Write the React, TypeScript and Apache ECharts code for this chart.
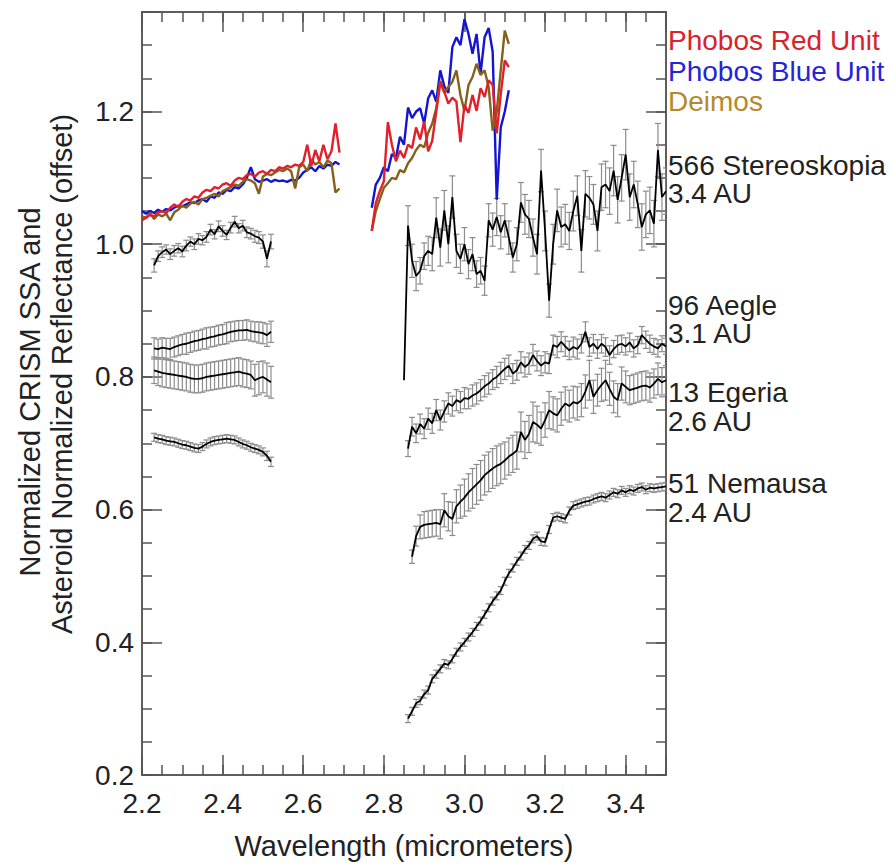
import React, { useEffect, useRef } from "react";
import * as echarts from "echarts";

// ---------- wavelength grids (micrometers) ----------
const moonWlA = [2.20, 2.21, 2.22, 2.23, 2.24, 2.25, 2.26, 2.27, 2.28, 2.29, 2.30, 2.31, 2.32, 2.33, 2.34, 2.35, 2.36, 2.37, 2.38, 2.39, 2.40, 2.41, 2.42, 2.43, 2.44, 2.45, 2.46, 2.47, 2.48, 2.49, 2.50, 2.51, 2.52, 2.53, 2.54, 2.55, 2.56, 2.57, 2.58, 2.59, 2.60, 2.61, 2.62, 2.63, 2.64, 2.65, 2.66, 2.67, 2.68, 2.69];
const moonWlB = [2.77, 2.78, 2.79, 2.80, 2.81, 2.82, 2.83, 2.84, 2.85, 2.86, 2.87, 2.88, 2.89, 2.90, 2.91, 2.92, 2.93, 2.94, 2.95, 2.96, 2.97, 2.98, 2.99, 3.00, 3.01, 3.02, 3.03, 3.04, 3.05, 3.06, 3.07, 3.08, 3.09, 3.10, 3.11];
const astWlA = [2.23, 2.24, 2.25, 2.26, 2.27, 2.28, 2.29, 2.30, 2.31, 2.32, 2.33, 2.34, 2.35, 2.36, 2.37, 2.38, 2.39, 2.40, 2.41, 2.42, 2.43, 2.44, 2.45, 2.46, 2.47, 2.48, 2.49, 2.50, 2.51, 2.52];
const astWlB = [2.85, 2.86, 2.87, 2.88, 2.89, 2.90, 2.91, 2.92, 2.93, 2.94, 2.95, 2.96, 2.97, 2.98, 2.99, 3.00, 3.01, 3.02, 3.03, 3.04, 3.05, 3.06, 3.07, 3.08, 3.09, 3.10, 3.11, 3.12, 3.13, 3.14, 3.15, 3.16, 3.17, 3.18, 3.19, 3.20, 3.21, 3.22, 3.23, 3.24, 3.25, 3.26, 3.27, 3.28, 3.29, 3.30, 3.31, 3.32, 3.33, 3.34, 3.35, 3.36, 3.37, 3.38, 3.39, 3.40, 3.41, 3.42, 3.43, 3.44, 3.45, 3.46, 3.47, 3.48, 3.49, 3.50];

// ---------- Phobos / Deimos CRISM SSA ----------
const phobosRedA = [1.036, 1.040, 1.044, 1.042, 1.048, 1.050, 1.047, 1.055, 1.060, 1.056, 1.064, 1.068, 1.066, 1.072, 1.070, 1.078, 1.082, 1.080, 1.086, 1.084, 1.090, 1.092, 1.088, 1.096, 1.100, 1.098, 1.104, 1.106, 1.102, 1.108, 1.110, 1.106, 1.112, 1.110, 1.116, 1.114, 1.118, 1.116, 1.120, 1.118, 1.124, 1.150, 1.118, 1.142, 1.125, 1.150, 1.128, 1.140, 1.182, 1.138];
const phobosBlueA = [1.050, 1.046, 1.050, 1.047, 1.052, 1.049, 1.053, 1.051, 1.055, 1.058, 1.057, 1.060, 1.063, 1.062, 1.066, 1.068, 1.064, 1.072, 1.070, 1.078, 1.076, 1.082, 1.080, 1.086, 1.084, 1.090, 1.100, 1.116, 1.098, 1.094, 1.096, 1.098, 1.094, 1.097, 1.095, 1.096, 1.094, 1.097, 1.096, 1.100, 1.108, 1.112, 1.116, 1.110, 1.118, 1.114, 1.120, 1.118, 1.124, 1.120];
const deimosA = [1.042, 1.040, 1.047, 1.038, 1.045, 1.042, 1.046, 1.036, 1.048, 1.052, 1.058, 1.055, 1.061, 1.064, 1.060, 1.068, 1.070, 1.073, 1.076, 1.072, 1.080, 1.083, 1.086, 1.090, 1.088, 1.094, 1.098, 1.096, 1.092, 1.076, 1.102, 1.106, 1.104, 1.108, 1.112, 1.110, 1.114, 1.110, 1.084, 1.116, 1.120, 1.110, 1.128, 1.120, 1.124, 1.116, 1.126, 1.122, 1.078, 1.084];
const phobosRedB = [1.020, 1.062, 1.080, 1.095, 1.184, 1.150, 1.125, 1.141, 1.130, 1.150, 1.145, 1.176, 1.158, 1.185, 1.140, 1.156, 1.200, 1.244, 1.230, 1.212, 1.221, 1.215, 1.154, 1.210, 1.198, 1.225, 1.201, 1.235, 1.222, 1.247, 1.240, 1.167, 1.226, 1.277, 1.267];
const phobosBlueB = [1.055, 1.090, 1.100, 1.116, 1.110, 1.136, 1.130, 1.162, 1.150, 1.206, 1.190, 1.200, 1.205, 1.182, 1.220, 1.232, 1.215, 1.262, 1.238, 1.228, 1.297, 1.312, 1.300, 1.339, 1.317, 1.287, 1.317, 1.257, 1.312, 1.326, 1.290, 1.067, 1.176, 1.200, 1.232];
const deimosB = [1.020, 1.050, 1.068, 1.085, 1.092, 1.100, 1.098, 1.112, 1.108, 1.122, 1.130, 1.142, 1.150, 1.146, 1.168, 1.182, 1.205, 1.246, 1.228, 1.237, 1.245, 1.262, 1.225, 1.201, 1.240, 1.252, 1.272, 1.255, 1.262, 1.237, 1.171, 1.200, 1.262, 1.322, 1.302];

// ---------- asteroid normalized reflectance (offset) ----------
const stereoA = [0.968, 0.982, 0.988, 0.992, 0.985, 0.990, 0.994, 0.989, 0.998, 1.004, 1.000, 1.008, 1.006, 1.011, 1.022, 1.015, 1.027, 1.020, 1.014, 1.025, 1.034, 1.024, 1.028, 1.018, 1.016, 1.012, 1.010, 1.004, 0.978, 1.004];
const stereoErrA = [0.010, 0.008, 0.008, 0.007, 0.008, 0.008, 0.007, 0.008, 0.008, 0.007, 0.008, 0.008, 0.007, 0.008, 0.008, 0.007, 0.008, 0.008, 0.007, 0.008, 0.008, 0.007, 0.008, 0.008, 0.008, 0.009, 0.009, 0.010, 0.012, 0.011];
const aegleA = [0.843, 0.842, 0.844, 0.843, 0.842, 0.845, 0.847, 0.849, 0.850, 0.852, 0.854, 0.855, 0.857, 0.858, 0.860, 0.861, 0.863, 0.864, 0.866, 0.868, 0.869, 0.870, 0.870, 0.871, 0.869, 0.868, 0.867, 0.866, 0.863, 0.868];
const aegleErrA = [0.016, 0.015, 0.015, 0.015, 0.016, 0.015, 0.015, 0.015, 0.016, 0.015, 0.015, 0.015, 0.015, 0.016, 0.015, 0.015, 0.015, 0.015, 0.016, 0.015, 0.015, 0.015, 0.015, 0.015, 0.015, 0.015, 0.016, 0.016, 0.017, 0.016];
const egeriaA = [0.810, 0.808, 0.806, 0.805, 0.804, 0.803, 0.802, 0.801, 0.800, 0.798, 0.797, 0.797, 0.798, 0.800, 0.801, 0.802, 0.803, 0.804, 0.805, 0.806, 0.807, 0.808, 0.806, 0.805, 0.803, 0.795, 0.798, 0.800, 0.796, 0.792];
const egeriaErrA = [0.020, 0.021, 0.021, 0.021, 0.021, 0.021, 0.021, 0.021, 0.021, 0.021, 0.021, 0.021, 0.021, 0.021, 0.021, 0.021, 0.021, 0.021, 0.021, 0.021, 0.021, 0.021, 0.021, 0.021, 0.021, 0.024, 0.025, 0.024, 0.025, 0.024];
const nemausaA = [0.709, 0.707, 0.706, 0.704, 0.703, 0.702, 0.700, 0.698, 0.697, 0.695, 0.693, 0.692, 0.695, 0.699, 0.702, 0.704, 0.705, 0.706, 0.707, 0.706, 0.705, 0.702, 0.699, 0.697, 0.694, 0.692, 0.690, 0.687, 0.681, 0.672];
const nemausaErrA = [0.006, 0.006, 0.006, 0.006, 0.006, 0.006, 0.006, 0.006, 0.006, 0.006, 0.006, 0.006, 0.006, 0.006, 0.006, 0.006, 0.006, 0.006, 0.006, 0.006, 0.006, 0.006, 0.006, 0.006, 0.006, 0.006, 0.006, 0.006, 0.007, 0.007];

const stereoB = [0.795, 1.028, 0.975, 0.952, 0.960, 0.982, 0.990, 0.985, 1.040, 0.995, 1.051, 1.000, 1.071, 0.990, 0.978, 1.000, 0.970, 0.985, 0.955, 0.960, 0.945, 1.036, 1.022, 1.041, 1.018, 1.036, 1.010, 0.980, 1.000, 1.063, 1.045, 1.038, 1.010, 0.985, 1.111, 1.020, 0.915, 1.000, 1.051, 1.026, 1.030, 1.020, 1.050, 1.073, 0.990, 1.076, 1.070, 1.060, 1.020, 1.086, 1.090, 1.080, 1.111, 1.067, 1.100, 1.135, 1.071, 1.090, 1.060, 1.026, 1.045, 1.051, 1.031, 1.142, 1.071, 1.080];
const stereoErrB = [0, 0.030, 0.025, 0.022, 0.020, 0.020, 0.022, 0.025, 0.030, 0.028, 0.030, 0.028, 0.032, 0.025, 0.022, 0.025, 0.022, 0.025, 0.020, 0.020, 0.022, 0.025, 0.025, 0.028, 0.025, 0.025, 0.025, 0.022, 0.025, 0.030, 0.030, 0.028, 0.028, 0.030, 0.032, 0.030, 0.025, 0.030, 0.032, 0.030, 0.030, 0.028, 0.030, 0.030, 0.032, 0.035, 0.032, 0.030, 0.030, 0.035, 0.035, 0.035, 0.038, 0.035, 0.035, 0.038, 0.035, 0.035, 0.035, 0.035, 0.035, 0.035, 0.035, 0.040, 0.035, 0.035];
const aegleB = [null, 0.692, 0.725, 0.715, 0.729, 0.722, 0.737, 0.730, 0.750, 0.735, 0.748, 0.760, 0.756, 0.765, 0.762, 0.768, 0.767, 0.772, 0.775, 0.780, 0.786, 0.790, 0.796, 0.800, 0.806, 0.812, 0.817, 0.805, 0.810, 0.822, 0.815, 0.820, 0.833, 0.824, 0.817, 0.822, 0.820, 0.848, 0.845, 0.853, 0.846, 0.840, 0.845, 0.842, 0.850, 0.868, 0.845, 0.850, 0.842, 0.850, 0.845, 0.833, 0.842, 0.848, 0.850, 0.846, 0.852, 0.843, 0.848, 0.863, 0.856, 0.850, 0.846, 0.843, 0.850, 0.846];
const aegleErrB = [0, 0.012, 0.014, 0.014, 0.015, 0.015, 0.016, 0.015, 0.016, 0.015, 0.016, 0.016, 0.015, 0.016, 0.016, 0.016, 0.015, 0.016, 0.016, 0.016, 0.016, 0.016, 0.015, 0.016, 0.016, 0.016, 0.016, 0.015, 0.015, 0.016, 0.015, 0.016, 0.016, 0.015, 0.015, 0.016, 0.015, 0.015, 0.016, 0.015, 0.015, 0.014, 0.015, 0.015, 0.014, 0.015, 0.014, 0.014, 0.014, 0.014, 0.014, 0.014, 0.013, 0.014, 0.013, 0.013, 0.014, 0.013, 0.013, 0.013, 0.013, 0.013, 0.012, 0.013, 0.012, 0.012];
const egeriaB = [null, null, 0.529, 0.560, 0.574, 0.577, 0.578, 0.579, 0.580, 0.578, 0.599, 0.590, 0.586, 0.605, 0.612, 0.618, 0.626, 0.632, 0.638, 0.644, 0.652, 0.657, 0.662, 0.666, 0.669, 0.674, 0.680, 0.684, 0.689, 0.717, 0.705, 0.714, 0.732, 0.728, 0.722, 0.735, 0.750, 0.745, 0.742, 0.752, 0.760, 0.756, 0.762, 0.760, 0.765, 0.778, 0.795, 0.770, 0.780, 0.788, 0.795, 0.782, 0.770, 0.765, 0.790, 0.785, 0.780, 0.782, 0.784, 0.786, 0.787, 0.784, 0.790, 0.797, 0.792, 0.795];
const egeriaErrB = [0, 0, 0.010, 0.015, 0.018, 0.020, 0.020, 0.020, 0.020, 0.022, 0.025, 0.022, 0.025, 0.025, 0.025, 0.028, 0.028, 0.030, 0.030, 0.030, 0.030, 0.030, 0.030, 0.030, 0.030, 0.028, 0.028, 0.028, 0.028, 0.030, 0.028, 0.028, 0.030, 0.028, 0.025, 0.026, 0.028, 0.025, 0.025, 0.025, 0.025, 0.024, 0.024, 0.025, 0.025, 0.025, 0.030, 0.025, 0.024, 0.025, 0.030, 0.025, 0.024, 0.025, 0.025, 0.024, 0.022, 0.022, 0.022, 0.022, 0.022, 0.022, 0.022, 0.024, 0.022, 0.022];
const nemausaB = [null, 0.285, 0.296, 0.308, 0.312, 0.322, 0.328, 0.345, 0.352, 0.360, 0.368, 0.366, 0.375, 0.385, 0.393, 0.400, 0.408, 0.415, 0.424, 0.432, 0.442, 0.452, 0.462, 0.470, 0.478, 0.492, 0.504, 0.512, 0.522, 0.530, 0.540, 0.546, 0.556, 0.560, 0.552, 0.551, 0.570, 0.588, 0.590, 0.588, 0.586, 0.598, 0.606, 0.608, 0.610, 0.612, 0.613, 0.616, 0.618, 0.620, 0.618, 0.622, 0.626, 0.624, 0.629, 0.626, 0.630, 0.628, 0.632, 0.634, 0.630, 0.633, 0.632, 0.633, 0.634, 0.635];
const nemausaErrB = [0, 0.006, 0.006, 0.006, 0.006, 0.006, 0.006, 0.006, 0.006, 0.006, 0.006, 0.006, 0.006, 0.006, 0.006, 0.006, 0.006, 0.006, 0.006, 0.006, 0.006, 0.006, 0.006, 0.006, 0.006, 0.006, 0.006, 0.006, 0.006, 0.006, 0.006, 0.006, 0.006, 0.006, 0.006, 0.006, 0.006, 0.006, 0.006, 0.006, 0.006, 0.006, 0.006, 0.006, 0.006, 0.006, 0.006, 0.006, 0.006, 0.006, 0.006, 0.006, 0.006, 0.006, 0.006, 0.006, 0.006, 0.006, 0.006, 0.006, 0.006, 0.006, 0.006, 0.006, 0.006, 0.006];

// ---------- labels ----------
const xTitle = "Wavelength (micrometers)";
const yTitleLines = ["Normalized CRISM SSA and", "Asteroid Normalized Reflectance (offset)"];
const moonLabels = ["Phobos Red Unit", "Phobos Blue Unit", "Deimos"];
const asteroidLabels = [
  ["566 Stereoskopia", "3.4 AU"],
  ["96 Aegle", "3.1 AU"],
  ["13 Egeria", "2.6 AU"],
  ["51 Nemausa", "2.4 AU"],
];

const FONT = '"Liberation Sans", Arial, Helvetica, sans-serif';
const RED = "#e0202a";
const BLUE = "#1414d2";
const BROWN = "#85601a";
const AXIS = "#555555";
const TEXT = "#222222";

function pts(xs: number[], ys: (number | null)[]) {
  const out: number[][] = [];
  xs.forEach((x, i) => {
    const y = ys[i];
    if (y !== null && y !== undefined) out.push([x, y]);
  });
  return out;
}

function errPts(xs: number[], ys: (number | null)[], es: number[]) {
  const out: number[][] = [];
  xs.forEach((x, i) => {
    const y = ys[i];
    const e = es[i];
    if (y !== null && y !== undefined && e > 0) out.push([x, y - e, y + e]);
  });
  return out;
}

const errRender = (params: any, api: any) => {
  const x = api.value(0);
  const a = api.coord([x, api.value(1)]);
  const b = api.coord([x, api.value(2)]);
  const w = 3;
  const style = { stroke: "#8c8c8c", lineWidth: 1.2 };
  return {
    type: "group",
    children: [
      { type: "line", shape: { x1: a[0], y1: a[1], x2: b[0], y2: b[1] }, style },
      { type: "line", shape: { x1: a[0] - w, y1: a[1], x2: a[0] + w, y2: a[1] }, style },
      { type: "line", shape: { x1: b[0] - w, y1: b[1], x2: b[0] + w, y2: b[1] }, style },
    ],
  };
};

function errSeries(data: number[][]) {
  return {
    type: "custom",
    renderItem: errRender,
    data,
    encode: { x: 0, y: [1, 2] },
    clip: true,
    silent: true,
    z: 2,
  };
}

function lineSeries(name: string, data: number[][], color: string, width: number, z: number) {
  return {
    type: "line",
    name,
    data,
    showSymbol: false,
    symbol: "none",
    lineStyle: { color, width },
    itemStyle: { color },
    silent: true,
    clip: true,
    z,
  };
}

const isMajor = (v: number) => Math.abs(v * 5 - Math.round(v * 5)) < 1e-6;

export default function App() {
  const ref = useRef<HTMLDivElement>(null);

  useEffect(() => {
    document.body.style.margin = "0";
    const chart = echarts.init(ref.current!, null, { renderer: "svg" });

    const xBase = {
      type: "value",
      min: 2.2,
      max: 3.5,
      splitLine: { show: false },
      axisLine: { show: true, onZero: false, lineStyle: { color: AXIS, width: 1.5 } },
    };
    const yBase = {
      type: "value",
      min: 0.2,
      max: 1.35,
      splitLine: { show: false },
      axisLine: { show: true, onZero: false, lineStyle: { color: AXIS, width: 1.5 } },
    };
    const tick = (len: number) => ({ show: true, inside: true, length: len, lineStyle: { color: AXIS, width: 1.5 } });
    const labelStyle = { color: TEXT, fontSize: 28, fontFamily: FONT };

    const graphics: any[] = [];
    const yTitleX = [30, 62];
    const yTitleY = [392, 374];
    yTitleLines.forEach((t, i) => {
      graphics.push({
        type: "text",
        x: yTitleX[i],
        y: yTitleY[i],
        rotation: Math.PI / 2,
        style: {
          text: t,
          fill: TEXT,
          font: `29px ${FONT}`,
          textAlign: "center",
          textVerticalAlign: "middle",
          align: "center",
          verticalAlign: "middle",
        },
      });
    });
    const moonColors = ["#d8222c", "#2424d6", "#b38a2e"];
    const moonY = [40, 71, 101];
    moonLabels.forEach((t, i) => {
      graphics.push({
        type: "text",
        x: 668,
        y: moonY[i],
        style: { text: t, fill: moonColors[i], font: `28px ${FONT}`, textAlign: "left", textVerticalAlign: "middle", align: "left", verticalAlign: "middle" },
      });
    });
    const astY = [[165, 193], [305, 333], [392, 421], [483, 512]];
    asteroidLabels.forEach((pair, i) => {
      pair.forEach((t, j) => {
        graphics.push({
          type: "text",
          x: 668,
          y: astY[i][j],
          style: { text: t, fill: TEXT, font: `28px ${FONT}`, textAlign: "left", textVerticalAlign: "middle", align: "left", verticalAlign: "middle" },
        });
      });
    });

    const option: any = {
      animation: false,
      backgroundColor: "#ffffff",
      grid: { left: 142, right: 226, top: 12, bottom: 92, containLabel: false },
      xAxis: [
        {
          ...xBase,
          position: "bottom",
          interval: 0.2,
          axisTick: tick(20),
          axisLabel: {
            ...labelStyle,
            margin: 14,
            formatter: (v: number) => (isMajor(v) ? v.toFixed(1) : ""),
          },
          name: xTitle,
          nameLocation: "middle",
          nameGap: 56,
          nameTextStyle: { color: TEXT, fontSize: 29, fontFamily: FONT },
        },
        { ...xBase, position: "bottom", interval: 0.05, axisTick: tick(10), axisLabel: { show: false } },
        { ...xBase, position: "top", interval: 0.2, axisTick: tick(20), axisLabel: { show: false } },
        { ...xBase, position: "top", interval: 0.05, axisTick: tick(10), axisLabel: { show: false } },
      ],
      yAxis: [
        {
          ...yBase,
          position: "left",
          interval: 0.2,
          axisTick: tick(20),
          axisLabel: {
            ...labelStyle,
            margin: 8,
            formatter: (v: number) => (isMajor(v) ? v.toFixed(1) : ""),
          },
        },
        { ...yBase, position: "left", interval: 0.05, axisTick: tick(10), axisLabel: { show: false } },
        { ...yBase, position: "right", interval: 0.2, axisTick: tick(20), axisLabel: { show: false } },
        { ...yBase, position: "right", interval: 0.05, axisTick: tick(10), axisLabel: { show: false } },
      ],
      graphic: graphics,
      series: [
        errSeries(errPts(astWlA, stereoA, stereoErrA)),
        errSeries(errPts(astWlA, aegleA, aegleErrA)),
        errSeries(errPts(astWlA, egeriaA, egeriaErrA)),
        errSeries(errPts(astWlA, nemausaA, nemausaErrA)),
        errSeries(errPts(astWlB, stereoB, stereoErrB)),
        errSeries(errPts(astWlB, aegleB, aegleErrB)),
        errSeries(errPts(astWlB, egeriaB, egeriaErrB)),
        errSeries(errPts(astWlB, nemausaB, nemausaErrB)),
        lineSeries("566 Stereoskopia", pts(astWlA, stereoA), "#000", 1.8, 3),
        lineSeries("96 Aegle", pts(astWlA, aegleA), "#000", 1.8, 3),
        lineSeries("13 Egeria", pts(astWlA, egeriaA), "#000", 1.8, 3),
        lineSeries("51 Nemausa", pts(astWlA, nemausaA), "#000", 1.8, 3),
        lineSeries("566 Stereoskopia", pts(astWlB, stereoB), "#000", 1.8, 3),
        lineSeries("96 Aegle", pts(astWlB, aegleB), "#000", 1.8, 3),
        lineSeries("13 Egeria", pts(astWlB, egeriaB), "#000", 1.8, 3),
        lineSeries("51 Nemausa", pts(astWlB, nemausaB), "#000", 1.8, 3),
        lineSeries("Phobos Blue Unit", pts(moonWlA, phobosBlueA), BLUE, 2.4, 4),
        lineSeries("Deimos", pts(moonWlA, deimosA), BROWN, 2.4, 5),
        lineSeries("Phobos Red Unit", pts(moonWlA, phobosRedA), RED, 2.4, 6),
        lineSeries("Phobos Blue Unit", pts(moonWlB, phobosBlueB), BLUE, 2.4, 4),
        lineSeries("Deimos", pts(moonWlB, deimosB), BROWN, 2.4, 5),
        lineSeries("Phobos Red Unit", pts(moonWlB, phobosRedB), RED, 2.4, 6),
      ],
    };

    chart.setOption(option);
    return () => chart.dispose();
  }, []);

  return <div ref={ref} style={{ width: 892, height: 867 }} />;
}
